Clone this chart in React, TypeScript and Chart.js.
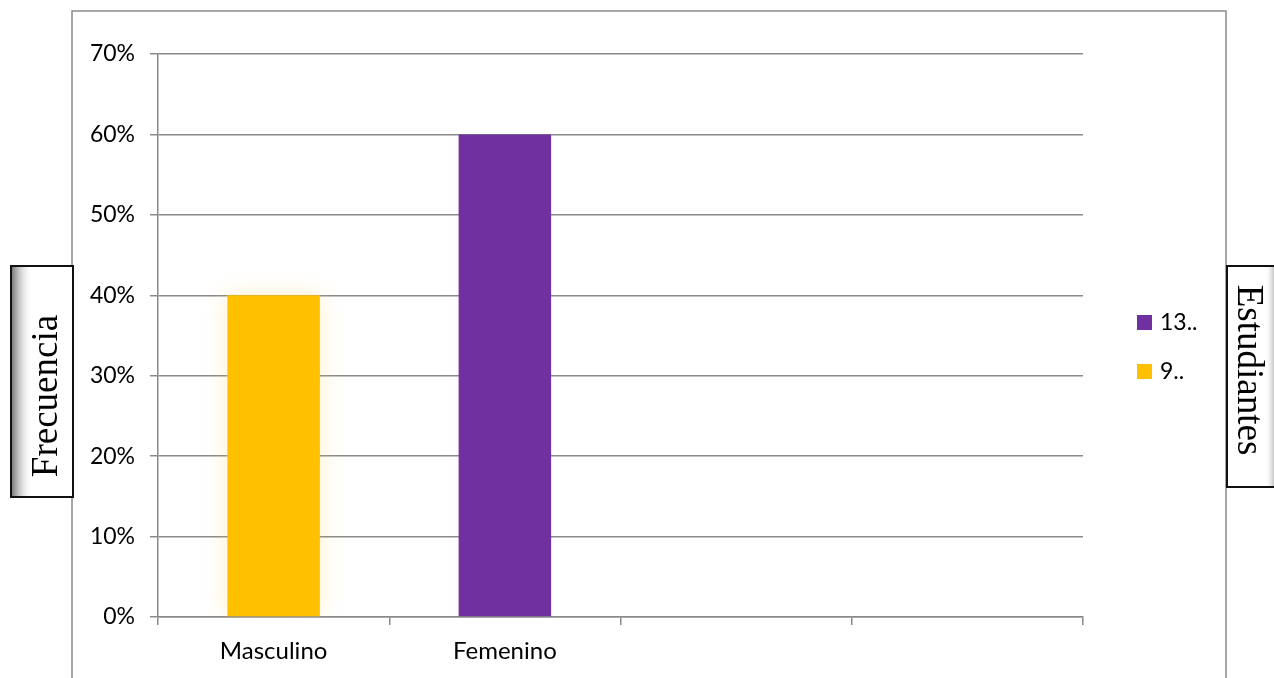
import React, { useEffect, useRef } from "react";
import { Chart, registerables } from "chart.js";

Chart.register(...registerables);

const categories = ["Masculino", "Femenino", "", ""];
const seriesLabels = ["13..", "9.."];
const femeninoValues = [null, 0.6, null, null];
const masculinoValues = [0.4, null, null, null];
const seriesColors = ["#7030A0", "#FFC000"];
const yTitle = "Frecuencia";
const rightTitle = "Estudiantes";

const FONT = "Lato, 'Open Sans', sans-serif";
const SERIF = "'Liberation Serif', 'DejaVu Serif', serif";
const GRID = "#8a8a8a";

const glowPlugin = {
  id: "glow",
  beforeDatasetDraw(chart: any, args: any) {
    if (args.index === 1) {
      const ctx = chart.ctx;
      ctx.save();
      ctx.shadowColor = "rgba(255,200,60,0.28)";
      ctx.shadowBlur = 22;
    }
  },
  afterDatasetDraw(chart: any, args: any) {
    if (args.index === 1) chart.ctx.restore();
  },
};

const decorPlugin = {
  id: "decor",
  beforeDraw(chart: any) {
    const ctx = chart.ctx;
    ctx.save();
    ctx.fillStyle = "#ffffff";
    ctx.fillRect(0, 0, chart.width, chart.height);
    ctx.strokeStyle = GRID;
    ctx.lineWidth = 1.5;
    ctx.beginPath();
    ctx.moveTo(72, 700);
    ctx.lineTo(72, 11);
    ctx.lineTo(1226, 11);
    ctx.lineTo(1226, 700);
    ctx.stroke();
    ctx.restore();
  },
  afterDraw(chart: any) {
    const ctx = chart.ctx;
    ctx.save();
    const drawBox = (x: number, y: number, w: number, h: number, side: "left" | "right") => {
      ctx.fillStyle = "#ffffff";
      ctx.fillRect(x, y, w, h);
      const g =
        side === "left"
          ? ctx.createLinearGradient(x, 0, x + 22, 0)
          : ctx.createLinearGradient(x + w, 0, x + w - 14, 0);
      g.addColorStop(0, "rgba(110,110,110,1)");
      g.addColorStop(1, "rgba(255,255,255,0)");
      ctx.fillStyle = g;
      ctx.fillRect(x, y, w, h);
      ctx.strokeStyle = "#111111";
      ctx.lineWidth = 2;
      ctx.strokeRect(x, y, w, h);
    };
    drawBox(11, 266, 62, 231, "left");
    drawBox(1227, 266, 52, 221, "right");

    ctx.fillStyle = "#000000";
    ctx.font = `37px ${SERIF}`;
    ctx.textAlign = "center";
    ctx.textBaseline = "alphabetic";
    ctx.save();
    ctx.translate(57, 396);
    ctx.rotate(-Math.PI / 2);
    ctx.fillText(yTitle, 0, 0);
    ctx.restore();
    ctx.save();
    ctx.translate(1238, 370);
    ctx.rotate(Math.PI / 2);
    ctx.fillText(rightTitle, 0, 0);
    ctx.restore();

    const ds = chart.data.datasets;
    ctx.font = `23px ${FONT}`;
    ctx.textAlign = "left";
    ctx.textBaseline = "middle";
    ds.forEach((d: any, i: number) => {
      const cy = 323 + i * 49;
      ctx.fillStyle = d.backgroundColor;
      ctx.fillRect(1137, cy - 8, 15, 15);
      ctx.fillStyle = "#000000";
      ctx.fillText(d.label, 1160, cy);
    });
    ctx.restore();
  },
};

export default function App() {
  const ref = useRef<HTMLCanvasElement>(null);
  useEffect(() => {
    if (!ref.current) return;
    const chart = new Chart(ref.current, {
      type: "bar",
      data: {
        labels: categories,
        datasets: [
          {
            label: seriesLabels[0],
            data: femeninoValues as any,
            backgroundColor: seriesColors[0],
            grouped: false,
            barPercentage: 0.4,
            categoryPercentage: 1,
          } as any,
          {
            label: seriesLabels[1],
            data: masculinoValues as any,
            backgroundColor: seriesColors[1],
            grouped: false,
            barPercentage: 0.4,
            categoryPercentage: 1,
          } as any,
        ],
      },
      options: {
        animation: false,
        responsive: true,
        maintainAspectRatio: false,
        layout: { padding: { left: 78, top: 54, right: 191, bottom: 0 } },
        plugins: {
          legend: { display: false },
          tooltip: { enabled: false },
        },
        scales: {
          x: {
            offset: true,
            afterFit: (s: any) => {
              s.height = 61;
            },
            grid: {
              offset: true,
              drawOnChartArea: false,
              drawTicks: true,
              tickLength: 8,
              color: GRID,
              lineWidth: 1.5,
            },
            border: { color: GRID, width: 1.5 },
            ticks: {
              color: "#000000",
              padding: 12,
              font: { family: FONT, size: 24 },
              maxRotation: 0,
            },
          },
          y: {
            min: 0,
            max: 0.7,
            afterFit: (s: any) => {
              s.width = 80;
            },
            grid: {
              color: GRID,
              lineWidth: 1.5,
              tickLength: 8,
            },
            border: { color: GRID, width: 1.5 },
            ticks: {
              stepSize: 0.1,
              color: "#000000",
              padding: 15,
              font: { family: FONT, size: 23 },
              callback: (v: any) => Math.round(Number(v) * 100) + "%",
            },
          },
        },
      },
      plugins: [glowPlugin, decorPlugin],
    });
    return () => chart.destroy();
  }, []);
  return (
    <div style={{ position: "absolute", left: 0, top: 0, width: 1274, height: 678 }}>
      <canvas ref={ref} />
    </div>
  );
}
